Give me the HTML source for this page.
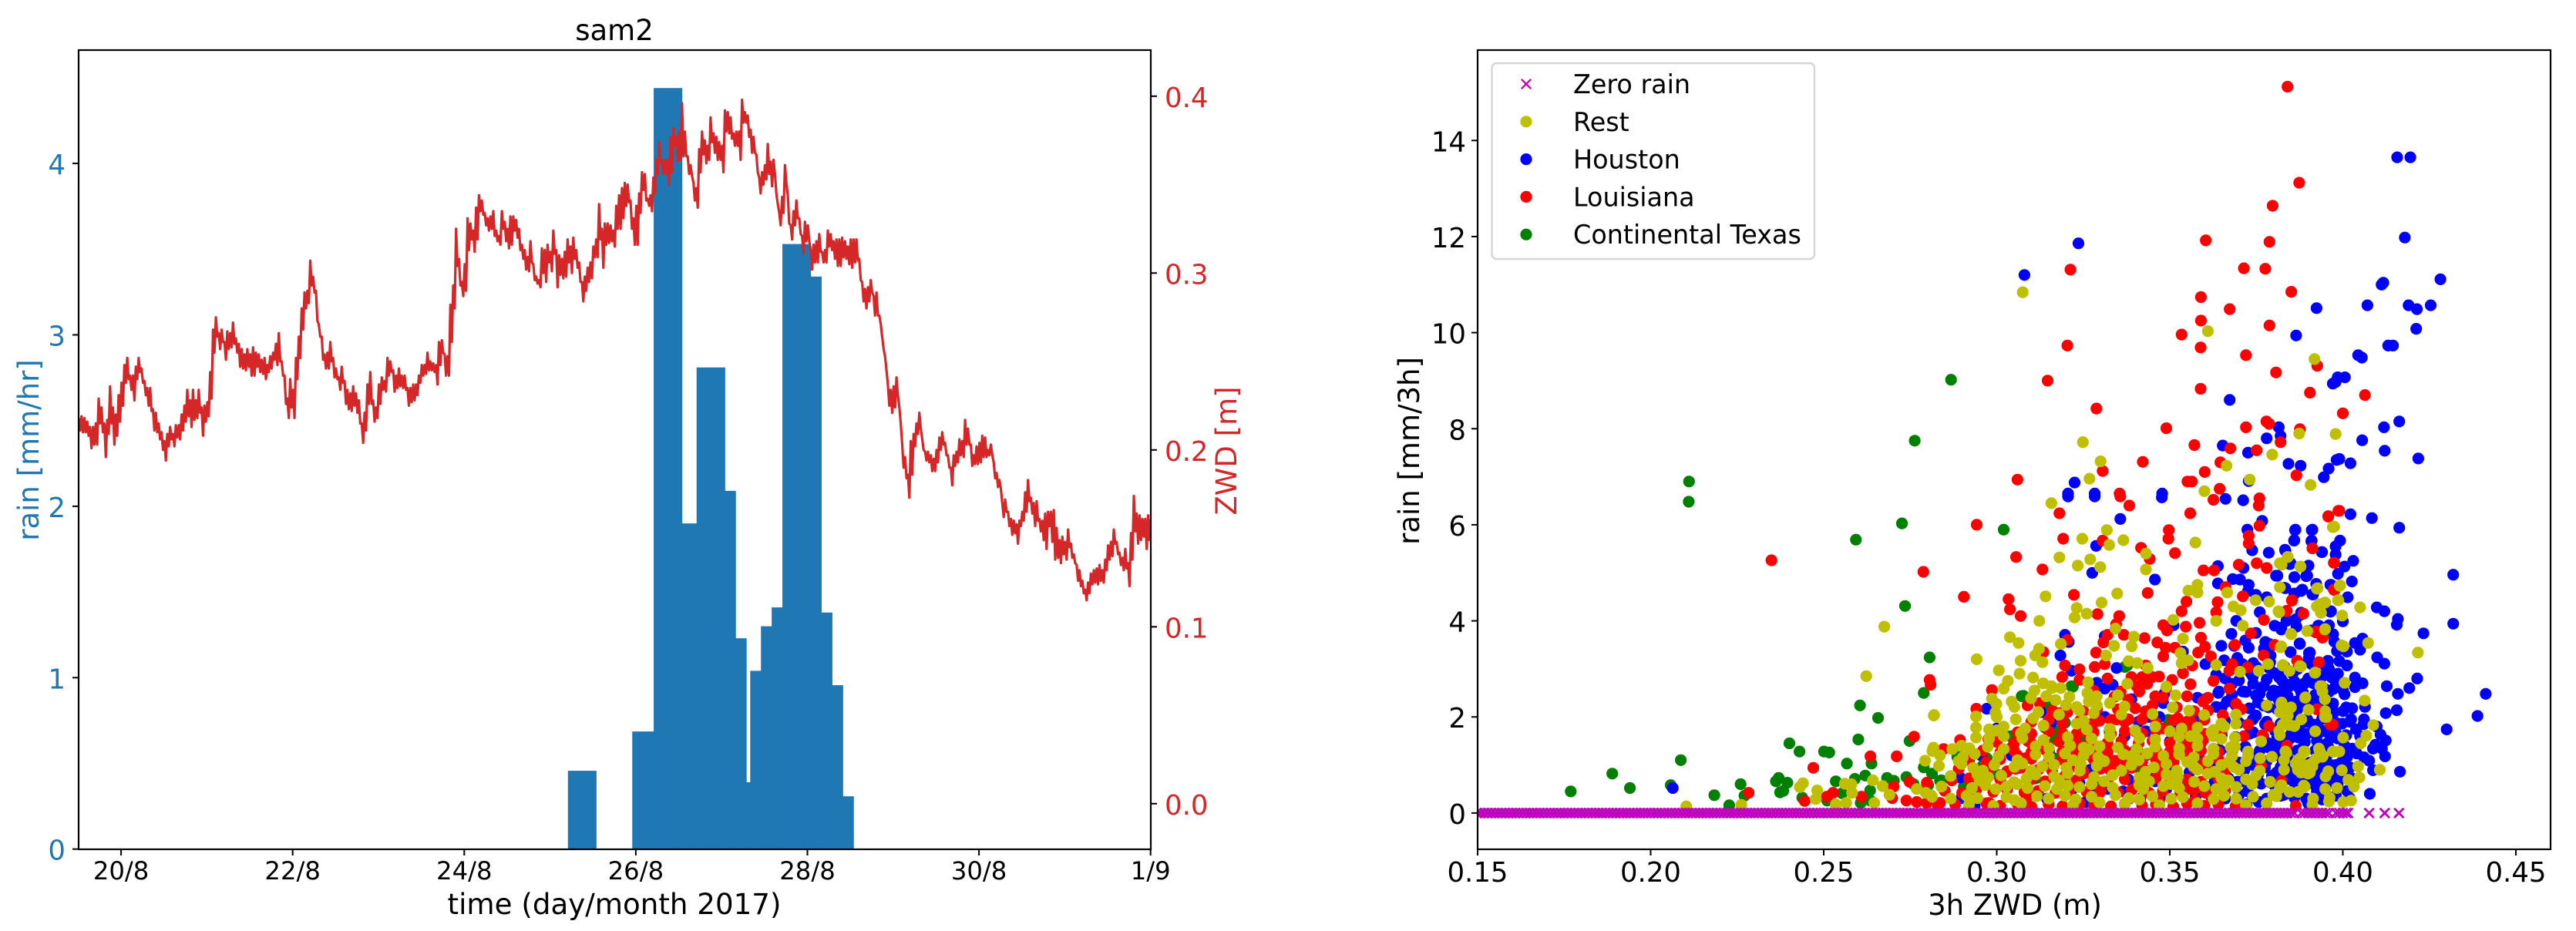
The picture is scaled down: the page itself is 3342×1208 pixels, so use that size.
<!DOCTYPE html>
<html>
<head>
<meta charset="utf-8">
<title>sam2 rain and ZWD</title>
<style>
html,body{margin:0;padding:0;background:#fff;}
svg{display:block;}
text{font-family:"DejaVu Sans","Liberation Sans",sans-serif;}
</style>
</head>
<body>
<svg id="figure" xmlns="http://www.w3.org/2000/svg" width="3342" height="1208" viewBox="0 0 3342 1208">
<defs>
<clipPath id="clip-left"><rect x="102" y="65" width="1391" height="1037"/></clipPath>
<clipPath id="clip-right"><rect x="1917" y="65" width="1392" height="1037"/></clipPath>
</defs>
<rect x="0" y="0" width="3342" height="1208" fill="#fff"/>
<g id="left-panel">
<g id="bars" clip-path="url(#clip-left)"></g>
<path id="zwd-line" clip-path="url(#clip-left)" fill="none" stroke="#d62728" stroke-width="3.2" stroke-linejoin="round"/>
<g id="left-axes"></g>
<text x="797" y="52" font-size="37" text-anchor="middle">sam2</text>
<text x="797" y="1186" font-size="37.2" text-anchor="middle">time (day/month 2017)</text>
<text transform="translate(50,584) rotate(-90)" font-size="37" fill="#1f77b4" text-anchor="middle">rain [mm/hr]</text>
<text transform="translate(1604,585) rotate(-90)" font-size="37" fill="#d62728" text-anchor="middle">ZWD [m]</text>
</g>
<g id="right-panel">
<g id="scatter" clip-path="url(#clip-right)"></g>
<g id="right-axes"></g>
<text x="2614" y="1187" font-size="37" text-anchor="middle">3h ZWD (m)</text>
<text transform="translate(1841,585) rotate(-90)" font-size="37" text-anchor="middle">rain [mm/3h]</text>
<g id="legend"></g>
</g>
</svg>
<script>
// ---- left chart data ----
const timeTickDays = [20,22,24,26,28,30,32];
const timeTickLabels = ['20/8','22/8','24/8','26/8','28/8','30/8','1/9'];
const rainTicks = [0,1,2,3,4];
const zwdTicks = [0,0.1,0.2,0.3,0.4];
const zwdTickLabels = ['0.0','0.1','0.2','0.3','0.4'];
const barDays = [25.375,26.125,26.375,26.625,26.875,27,27.125,27.25,27.5,27.625,27.75,27.875,28,28.125,28.25,28.375];
const rainRates = [0.457,0.686,4.44,1.9,2.81,2.09,1.23,0.39,1.04,1.3,1.41,3.53,3.34,1.38,0.956,0.308];
const barWidthDays = 1/3;
const zwdStartDay = 19.505;
const zwdBinDays = 1/30;
// high / low ZWD (mm) inside each successive time bin
const zwdHighLowMm = [
[218,211],[219,210],[218,210],[216,208],[213,201],[213,203],[215,203],[229,215],[224,210],[215,196],
[217,209],[236,215],[224,203],[220,208],[231,216],[238,225],[248,238],[252,240],[242,234],[242,228],
[247,240],[252,244],[246,238],[239,231],[235,225],[235,222],[223,211],[221,210],[215,206],[210,200],
[205,194],[209,202],[213,206],[209,202],[214,207],[214,206],[220,211],[225,216],[234,219],[228,213],
[234,217],[228,218],[234,221],[224,208],[225,216],[227,219],[244,229],[268,255],[275,264],[266,257],
[268,261],[261,251],[267,257],[266,258],[272,260],[263,255],[260,247],[257,246],[254,245],[257,247],
[254,242],[258,242],[255,247],[254,244],[251,243],[252,240],[248,244],[253,246],[255,251],[260,248],
[266,250],[250,242],[242,226],[229,218],[240,224],[234,218],[252,240],[264,252],[280,268],[289,280],
[290,283],[307,293],[298,289],[290,273],[271,264],[264,251],[254,246],[255,246],[261,250],[252,241],
[246,240],[241,234],[247,238],[239,226],[234,223],[232,222],[236,225],[232,221],[228,215],[215,204],
[221,211],[237,226],[244,226],[228,216],[224,218],[237,226],[241,234],[239,233],[252,242],[250,244],
[245,233],[242,235],[246,236],[242,235],[242,234],[235,225],[235,227],[237,228],[237,231],[242,238],
[248,242],[248,243],[255,245],[250,245],[249,244],[248,237],[261,248],[262,255],[254,242],[253,242],
[282,261],[293,280],[325,304],[308,293],[295,287],[305,290],[331,313],[328,319],[324,312],[337,319],
[344,335],[341,333],[334,327],[331,324],[332,325],[335,321],[324,318],[321,316],[335,325],[329,318],
[325,314],[332,316],[332,324],[330,320],[325,313],[316,308],[313,302],[309,301],[318,306],[305,296],
[298,294],[296,292],[314,300],[313,295],[316,306],[312,301],[324,311],[313,292],[310,299],[308,297],
[312,298],[319,306],[315,300],[320,308],[313,303],[306,295],[295,284],[298,290],[303,295],[306,297],
[315,309],[319,309],[339,319],[325,303],[328,316],[328,317],[327,318],[324,315],[338,325],[344,325],
[348,331],[351,338],[350,340],[341,325],[331,316],[338,316],[345,334],[357,347],[356,341],[342,338],
[344,335],[354,345],[364,356],[374,363],[364,356],[364,356],[364,350],[377,357],[382,372],[377,363],
[380,364],[396,366],[380,366],[366,356],[361,355],[351,341],[348,337],[370,357],[380,367],[375,362],
[372,364],[388,374],[379,368],[377,364],[374,364],[372,357],[392,380],[391,379],[388,376],[379,372],
[380,372],[380,364],[398,385],[391,385],[389,377],[381,368],[377,368],[367,357],[354,345],[357,350],
[361,353],[373,356],[363,349],[364,356],[345,339],[334,327],[343,334],[361,351],[344,328],[327,319],
[335,327],[341,331],[331,322],[321,311],[329,318],[327,318],[313,302],[316,306],[318,306],[322,312],
[312,306],[313,306],[324,315],[322,313],[318,308],[319,304],[319,304],[320,309],[318,308],[315,305],
[319,303],[319,306],[319,307],[308,296],[295,284],[291,280],[292,284],[296,289],[287,276],[289,276],
[276,271],[264,257],[253,245],[237,225],[234,221],[236,224],[241,231],[224,215],[203,190],[196,184],
[186,173],[205,186],[209,202],[215,209],[221,212],[206,200],[199,194],[199,193],[197,188],[195,188],
[200,193],[207,200],[210,203],[204,197],[197,190],[190,180],[197,191],[199,193],[206,197],[205,196],
[217,203],[212,203],[203,191],[197,192],[202,192],[204,193],[208,196],[207,196],[200,197],[203,197],
[193,184],[187,179],[183,178],[170,162],[172,165],[165,157],[161,152],[160,153],[158,147],[160,157],
[165,160],[176,165],[183,171],[173,164],[170,157],[171,160],[161,154],[160,149],[164,144],[165,157],
[165,148],[166,138],[156,139],[149,136],[151,141],[148,138],[155,145],[147,139],[141,136],[135,126],
[132,123],[126,119],[121,115],[125,119],[130,124],[132,125],[133,124],[135,126],[132,125],[138,132],
[146,138],[148,140],[155,147],[148,141],[142,135],[139,132],[144,133],[136,123],[153,138],[174,154],
[164,147],[163,149],[161,151],[161,144],[163,149],[161,148]
];

// ---- right chart data ----
const scatterXTicks = [0.15,0.2,0.25,0.3,0.35,0.4,0.45];
const scatterXLabels = ['0.15','0.20','0.25','0.30','0.35','0.40','0.45'];
const scatterYTicks = [0,2,4,6,8,10,12,14];
const legendLabels = ['Zero rain','Rest','Houston','Louisiana','Continental Texas'];
const zeroRainMm = [150,151,152,153,154,155,156,157,158,159,160,161,162,163,164,165,166,167,168,169,170,171,172,173,174,175,176,177,178,179,180,181,182,183,184,185,186,187,188,189,190,191,192,193,194,195,196,197,198,199,200,201,202,203,204,205,206,207,208,209,210,211,212,213,214,215,216,217,218,219,220,221,222,223,224,225,226,227,228,229,230,231,232,233,234,235,236,237,238,239,240,241,242,243,244,245,246,247,248,249,250,251,252,253,254,255,256,257,258,259,260,261,262,263,264,265,266,267,268,269,270,271,272,273,274,275,276,277,278,279,280,281,282,283,284,285,286,287,288,289,290,291,292,293,294,295,296,297,298,299,300,301,302,303,304,305,306,307,308,309,310,311,312,313,314,315,316,317,318,319,320,321,322,323,324,325,326,327,328,329,330,331,332,333,334,335,336,337,338,339,340,341,342,343,344,345,346,347,348,349,350,351,352,353,354,355,356,357,358,359,360,361,362,363,364,365,366,367,368,369,370,371,372,373,374,375,376,377,378,379,380,381,382,383,384,385,386,388,389,390,391,392,393,394,395,396,398,399,400,401,401.5,407.6,412.1,416.2];
const texasPoints = [[.2110,6.48],[.2111,6.9],[.2726,6.03],[.2593,5.69],[.2735,4.31],[.2868,9.02],[.2763,7.75],[.2806,3.24],[.2789,2.5],[.2605,2.24],[.2657,1.98],[.26,1.53],[.2748,1.5],[.2401,1.45],[.243,1.28],[.2501,1.28],[.2516,1.26],[.2789,.95],[.2567,1.03],[.2638,1.03],[.2087,1.1],[.1889,.82],[.262,.78],[.259,.71],[.237,.73],[.2362,.66],[.2395,.63],[.2535,.66],[.2683,.73],[.2703,.67],[.2739,.75],[.2798,.55],[.226,.6],[.194,.52],[.1769,.45],[.2058,.58],[.2271,.36],[.2184,.37],[.2383,.46],[.2374,.43],[.251,.26],[.2553,.41],[.2607,.21],[.2634,.47],[.2635,.26],[.2438,.32],[.2227,.16],
[.302,5.9],[.3216,2.64],[.3377,3.07],[.3072,2.43],[.3197,1.88],[.3151,2.22],[.3139,1.78],[.317,1.7],[.317,1.54],[.304,1.6],[.3239,1.52],[.3327,1.68],[.3316,1.4],[.2886,1.17],[.2971,1.14],[.2959,.98],[.3028,.85],[.3005,.79],[.2905,.55],[.2836,.67],[.2813,.82],[.2802,.58],[.3496,1.94],[.3412,.93],[.3112,.72],[.3297,.63],[.34,.61],[.3166,1.14],[.276,.6],[.284,.68],[.29,1.16],[.297,.96],[.291,.5],[.3077,2.44],[.322,2.63],[.337,3.04],[.3196,1.89],[.3326,1.7],[.3315,1.39]];
const houstonPoints = [[.4157,13.65],[.4195,13.65],[.4179,11.98],[.3236,11.86],[.308,11.2],[.4282,11.11],[.4112,11],[.4117,11.04],[.3924,10.51],[.4071,10.57],[.419,10.57],[.4214,10.49],[.4254,10.57],[.3865,9.94],[.4212,10.08],[.4131,9.73],[.4145,9.73],[.4044,9.53],[.4055,9.48],[.3985,9.07],[.4006,9.07],[.3971,8.94],[.3979,8.97],[.3673,8.6],[.3815,8.03],[.4163,8.15],[.4119,8.03],[.378,7.8],[.382,7.85],[.4056,7.76],[.3653,7.65],[.3726,7.5],[.4121,7.54],[.3843,7.27],[.3878,7.23],[.3982,7.35],[.399,7.37],[.4022,7.28],[.4218,7.38],[.3959,7.17],[.3945,6.99],[.3225,6.88],[.3728,6.91],[.3206,6.65],[.3283,6.65],[.3478,6.65],
[.3863,5.9],[.386,5.68],[.3912,5.9],[.391,5.67],[.3834,5.46],[.3849,5.2],[.394,5.43],[.3979,5.55],[.3979,5.38],[.3992,5.67],[.4022,6.22],[.4084,6.14],[.4163,5.94],[.403,5.25],[.4005,5.13],[.3986,4.98],[.3901,5.15],[.3897,4.94],[.386,4.91],[.3811,4.94],[.4026,4.82],[.3966,4.75],[.3923,4.77],[.3883,4.65],[.386,4.56],[.3834,4.68],[.3912,4.55],[.4014,4.49],[.4098,4.28],[.412,4.2],[.4159,4.04],[.4156,3.92],[.4319,4.96],[.4319,3.94],[.4233,3.74],[.3966,4.2],[.4,3.99],[.3879,4.13],[.3838,4.01],[.3822,3.86],[.3866,3.88],[.3931,3.9],[.396,3.91],[.3909,3.8],[.3972,3.72],[.3975,3.57],[.3983,3.37],[.4012,3.36],[.3875,3.53],[.3849,3.35],[.3905,3.34],[.3901,3.17],[.4057,3.63],[.4035,3.54],[.405,3.4],[.4099,3.24],[.412,3.11],[.4012,3.07],[.3957,3.17],[.396,3],[.4215,2.8],[.4192,2.6],[.4127,2.64],[.4159,2.48],[.4413,2.48],[.4389,2.02],[.43,1.74],[.4035,2.82],[.4057,2.7],[.4035,2.62],[.3986,2.9],[.3968,2.82],[.389,2.7],[.3972,2.58],[.4005,2.47],[.3923,2.9],[.3923,2.35],[.3972,2.28],[.3875,2.59],[.3846,2.64],[.3868,2.15],[.3846,2.32],[.3816,2.82],[.3823,2.53],[.4027,2.18],[.4001,2.12],[.4064,2.21],[.4124,2.08],[.4156,2.14],[.4024,1.95],[.4061,1.95],[.3998,1.86],[.4038,1.74],[.4098,1.8],[.3897,1.95],[.3942,1.71],[.3972,1.66],[.3927,1.83],[.3875,1.69],[.4109,1.63],[.4124,1.51],[.4094,1.42],[.4113,1.34],[.4087,1.34],[.4122,1.18],[.4027,1.34],[.4012,1.16],[.4061,1.16],[.4076,1.09],[.3953,1.19],[.389,1.48],[.3868,1.6],[.3846,1.54],[.3816,1.42],[.3831,1.08],[.385,.87],[.3927,.73],[.3968,.84],[.4087,.89],[.4165,.86],[.4024,.73],[.3964,.64],[.392,.58],[.4012,.46],[.4078,.4],[.3931,.38],[.3894,.3],[.383,.38],[.3868,.61],[.3808,.84],
[.3206,6.59],[.3283,6.59],[.3477,6.57],[.3661,6.54],[.3712,6.51],[.3357,6.12],[.3767,6.08],[.3724,5.9],[.3862,5.89],[.391,5.89],[.3859,5.67],[.3909,5.66],[.3287,5.56],[.3738,5.47],[.3786,5.42],[.3833,5.48],[.3939,5.43],[.3639,5.14],[.3713,5.1],[.3847,5.18],[.3276,5],[.3457,4.86],[.3639,4.78],[.3682,4.87],[.3703,4.86],[.3807,4.94],[.3728,4.75],[.3726,4.62],[.386,4.91],[.3894,4.93],[.383,4.69],[.386,4.57],[.3879,4.62],[.3914,4.55],[.3964,4.75],[.3749,4.54],[.378,4.49],[.376,4.18],[.3692,4],[.3749,3.75],[.3678,3.73],[.3511,3.91],[.3312,3.68],[.3197,3.71],[.3208,3.56],[.3803,3.9],[.3837,4],[.3879,4.17],[.3864,4.03],[.3929,3.9],[.3964,4.19],[.3822,3.82],[.3971,3.71],[.3718,3.59],[.3649,3.48],[.3686,3.48],[.3728,3.44],[.3776,3.56],[.3787,3.52],[.3849,3.35],[.3876,3.52],[.3902,3.33],[.3772,3.42],[.3184,3.28],[.3538,3.36],[.3791,3.28],[.3695,3.23],[.3603,3.1],[.3657,3.18],[.3741,3.12],[.3956,3.12],[.3902,3.23],[.3787,3.02],[.3734,2.91],[.3634,2.88],[.3346,3.02],[.3216,2.96],[.3538,2.91],[.368,2.69],[.3964,2.91],[.3887,2.69],[.3803,2.91],[.3741,2.69],[.3772,2.64],[.3841,2.67],[.3642,2.53],[.3711,2.53],[.3749,2.45],[.3665,2.32],[.3818,2.53],[.3864,2.32],[.3918,2.37],[.3964,2.27],[.3289,2.71],[.3335,2.67],[.3312,2.59],[.3389,2.37],[.3481,2.29],[.3484,2.48],[.358,2.4],[.3603,2.37],[.3634,2.21],[.2971,2.17],[.3129,2.1],[.3158,1.88],[.3438,2],[.3312,2],[.3749,2.03],[.3887,1.89],[.3918,1.84],[.3979,1.68],[.3741,1.68],[.3872,1.57],[.3956,1.68],[.391,1.68],[.3369,1.6],[.3431,1.7],[.3534,1.57],[.3826,1.52],[.3718,1.38],[.3787,1.36],[.3868,1.3],[.3,1.76],[.35,1.49],[.3043,1.2],[.2955,1.2],[.3646,1.3],[.3584,1.17],[.3596,.98],[.3715,.88],[.3826,1.09],[.3857,.66],[.3764,.61],[.3458,.66],[.3458,.82],[.3492,.95],[.3557,.85],[.3239,.63],[.2894,.74],[.2898,.31],[.3481,.37],[.3826,.37],[.3895,.29],[.3929,.39],[.3757,.23],[.3258,.23],[.3151,1.3],[.3266,1.22],[.34,1.3],[.2936,.15],[.3722,.18],[.3948,.66],[.3987,.82],[.3795,.77],[.3887,.77],[.2064,.52],
[.3755,2.3],[.3785,2.2],[.3815,2.35],[.3845,2.15],[.3875,2.3],[.3905,2.2],[.3935,2.45],[.3765,2.6],[.3795,2.45],[.3825,2.75],[.3855,2.9],[.3885,2.5],[.3915,2.7],[.3945,2.6],[.3975,2.1],[.3775,1.85],[.3805,1.7],[.3835,1.9],[.3865,1.75],[.3895,1.65],[.3925,1.5],[.3955,1.45],[.3985,1.55],[.4005,1.4],[.3785,1.45],[.3815,1.2],[.3845,1.1],[.3875,.95],[.3905,1.05],[.3935,.9],[.3965,1.0],[.3995,1.05],[.3745,1.15],[.3775,.95],[.3805,.55],[.3835,.7],[.3865,.45],[.3895,.6],[.3925,.45],[.3955,.35],[.3985,.6],[.4005,.85],[.3695,.65],[.3725,.45],[.3755,.8],[.3665,1.0],[.3635,.75],[.3605,.55],[.3575,.35],[.3545,.6],[.3415,.3],[.3365,.45],[.3285,.4],[.3215,.45],[.3145,.3]];
const houstonDensePoints = [
[.362,.34],[.366,.3],[.370,.38],[.374,.33],[.378,.3],[.382,.36],[.386,.32],[.390,.2],[.394,.28],[.398,.36],[.402,.31],
[.363,.68],[.367,.72],[.371,.66],[.375,.71],[.379,.64],[.383,.75],[.387,.68],[.391,.72],[.395,.66],[.399,.74],[.403,.62],
[.362,1.02],[.366,.98],[.370,1.05],[.374,1.0],[.378,1.08],[.382,.96],[.386,1.04],[.390,.98],[.394,1.06],[.398,1.0],[.402,.95],
[.364,1.32],[.368,1.28],[.372,1.35],[.376,1.3],[.380,1.36],[.384,1.27],[.388,1.33],[.392,1.3],[.396,1.35],[.400,1.28],[.404,1.24],
[.365,1.62],[.369,1.58],[.373,1.65],[.377,1.6],[.381,1.56],[.385,1.64],[.389,1.6],[.393,1.66],[.397,1.58],[.401,1.62],[.405,1.6],
[.366,1.92],[.370,1.88],[.374,1.95],[.378,1.9],[.382,1.86],[.386,1.94],[.390,1.9],[.394,1.96],[.398,1.88],[.402,1.9],[.406,1.85],
[.365,2.2],[.369,2.25],[.373,2.18],[.377,2.24],[.381,2.16],[.385,2.22],[.389,2.26],[.393,2.18],[.397,2.24],[.401,2.2],
[.364,2.5],[.368,2.46],[.372,2.52],[.376,2.48],[.380,2.55],[.384,2.44],[.388,2.5],[.392,2.46],[.396,2.52],[.400,2.56],
[.366,2.8],[.370,2.76],[.374,2.84],[.378,2.78],[.382,2.86],[.386,2.74],[.390,2.8],[.394,2.84],[.398,2.72],
[.371,3.1],[.375,3.04],[.379,3.14],[.383,3.06],[.387,3.0],[.391,3.1],[.395,3.06],[.399,3.16],
[.352,1.2],[.346,1.0],[.355,.7],[.349,.5],[.343,.85],[.338,.7],[.332,.5],[.327,.9],[.352,1.85],[.358,1.95],[.347,2.0],[.341,1.9]
];
const louisianaPoints = [[.384,15.12],[.3874,13.12],[.3797,12.64],[.3604,11.92],[.3788,11.89],[.3213,11.31],[.3714,11.34],[.3776,11.33],[.3851,10.85],[.359,10.74],[.3673,10.49],[.359,10.25],[.3534,9.96],[.3788,10.15],[.3204,9.73],[.3589,9.69],[.372,9.53],[.3926,9.31],[.3807,9.17],[.3147,9],[.3589,8.83],[.3905,8.75],[.4064,8.7],[.3288,8.42],[.4,8.32],[.3779,8.15],[.3787,8.1],[.372,8.03],[.349,8.01],[.3876,7.99],[.382,7.72],[.3571,7.66],[.3675,7.59],[.3751,7.55],[.3422,7.31],[.3646,7.3],[.3306,7.12],[.3601,7.1],[.3866,7.03],[.306,6.94],[.3551,6.9],[.3564,6.9],[.3644,6.75],[.3355,6.65],
[.2349,5.26],[.2788,5.02],[.2806,2.77],[.2809,2.67],[.2761,1.59],[.2635,1.18],[.2711,1.18],[.247,.94],[.2748,.65],[.2798,.63],[.2283,.42],[.2509,.34],[.2527,.42],[.2609,.34],[.2698,.31],[.2702,.55],[.2739,.26],[.2769,.23],[.2798,.21],[.2445,.25],
[.2942,6],[.3181,6.24],[.3357,6.59],[.3383,6.4],[.3559,6.24],[.3626,6.52],[.3759,6.55],[.3757,6.4],[.3759,5.98],[.3958,6.17],[.3987,6.29],[.3192,5.71],[.3306,5.67],[.3497,5.89],[.3496,5.71],[.3056,5.33],[.3417,5.52],[.3442,5.29],[.3515,5.41],[.3728,5.77],[.3728,5.61],[.3132,5.07],[.3597,5.05],[.3628,5.05],[.3699,5.17],[.3751,5.2],[.378,5.1],[.3974,5.21],[.3912,5.51],[.2905,4.5],[.3223,4.54],[.3436,4.58],[.3661,4.7],[.3711,4.51],[.3853,4.43],[.3974,4.65],[.3034,4.45],[.3038,4.24],[.3069,4.1],[.3291,4.14],[.3354,4.1],[.3548,4.4],[.3534,4.2],[.3638,4.39],[.3634,4.18],[.3772,4.02],[.3837,4.2],[.3345,3.93],[.3481,3.91],[.3492,3.8],[.3546,3.88],[.3586,3.96],[.3922,3.76],[.3941,3.65],[.332,3.71],[.3367,3.71],[.3308,3.55],[.3427,3.64],[.359,3.65],[.3464,3.55],[.3488,3.44],[.3481,3.26],[.3515,3.44],[.3602,3.46],[.3582,3.34],[.3619,3.26],[.3734,3.74],[.3287,3.34],[.3204,3.6],[.3135,3.35],[.3688,3.5],[.3771,3.28],[.3803,3.5],[.3283,3.04],[.3312,3.1],[.3197,3.07],[.3239,2.99],[.3431,3.07],[.3565,3.07],[.368,3.1],[.3725,3.03],[.393,3.13],[.3868,3.17],
[.3189,2.83],[.3239,2.77],[.3389,2.83],[.342,2.83],[.345,2.83],[.3469,2.84],[.3507,2.77],[.3538,2.91],[.3626,2.75],[.3672,2.96],[.3358,2.53],[.3404,2.64],[.3435,2.69],[.3412,2.53],[.2986,2.56],[.3458,2.43],[.345,2.24],[.355,2.43],[.3672,2.59],[.3692,2.27],[.3707,2.16],[.3925,2.16],[.3971,1.84],[.3787,1.81],[.3726,1.84],[.2941,2.17],[.3089,2.24],[.3124,2.29],[.34,2.18],[.335,2.16],[.3181,2.08],[.3204,2.1],[.3297,1.92],[.3346,1.95],[.3381,1.95],[.3596,2.32],[.3611,2.13],[.3653,2.04],[.3523,1.97],[.355,1.9],
[.3481,1.76],[.34,1.7],[.3231,1.65],[.3266,1.62],[.3565,1.68],[.3596,1.52],[.3768,1.62],[.3714,1.6],[.2894,1.52],[.2976,1.54],[.3043,1.36],[.3101,1.44],[.3231,1.3],[.327,1.2],[.2846,1.33],[.3059,1.2],[.3082,1.14],[.332,1.25],[.3343,1.09],[.3565,1.46],[.3507,1.2],[.3511,1.06],[.3431,1.2],[.355,1.3],[.3764,.98],
[.3162,1.03],[.3055,.92],[.3327,.9],[.3366,.87],[.3465,.93],[.3251,.82],[.3197,.77],[.3312,.66],[.3557,.5],[.3603,.42],[.3105,.39],[.3086,.31],[.3297,.42],[.2978,.21],[.3469,.24],[.3573,.26],[.2836,.21],[.3864,.15],[.3381,.29],[.2921,.71],
[.3958,6.18],[.399,6.29],[.3975,5.21],[.3976,4.64],[.3853,4.42],[.3838,4.21],[.3886,4.15],[.3923,3.78],[.3942,3.66],[.3931,3.14],[.3868,3.17],[.3926,2.16],[.3964,1.84],[.3838,1.4],[.3823,.67]];
const louisianaDensePoints = [
[.283,.14],[.288,.18],[.292,.13],[.297,.2],[.301,.15],[.306,.19],[.31,.13],[.315,.18],[.319,.14],[.324,.2],[.328,.16],[.333,.14],[.337,.19],[.342,.15],[.346,.18],[.351,.13],[.355,.2],[.36,.15],[.364,.18],[.369,.14],
[.285,.46],[.29,.42],[.294,.48],[.299,.44],[.303,.49],[.308,.43],[.312,.46],[.317,.42],[.321,.48],[.326,.44],[.33,.47],[.335,.43],[.339,.48],[.344,.42],[.348,.46],[.353,.44],[.357,.48],[.362,.43],[.366,.46],
[.287,.68],[.292,.72],[.296,.66],[.301,.7],[.305,.64],[.31,.7],[.314,.66],[.319,.72],[.323,.68],[.328,.73],[.332,.66],[.337,.7],[.341,.65],[.346,.72],[.35,.68],[.355,.7],[.359,.65],[.364,.72],
[.289,.92],[.294,.88],[.298,.93],[.303,.87],[.307,.94],[.312,.9],[.316,.88],[.321,.93],[.325,.87],[.33,.92],[.334,.89],[.339,.94],[.343,.88],[.348,.92],[.352,.87],[.357,.93],[.361,.9],[.366,.88],
[.292,1.1],[.297,1.06],[.301,1.12],[.306,1.08],[.31,1.13],[.315,1.07],[.319,1.11],[.324,1.06],[.328,1.12],[.333,1.08],[.337,1.1],[.342,1.06],[.346,1.12],[.351,1.08],[.355,1.1],[.36,1.06],[.364,1.12],
[.296,1.3],[.301,1.26],[.305,1.3],[.31,1.26],[.314,1.32],[.319,1.28],[.323,1.25],[.328,1.31],[.332,1.27],[.337,1.3],[.341,1.26],[.346,1.32],[.35,1.28],[.355,1.25],[.359,1.3],[.364,1.27],
[.3,1.48],[.305,1.45],[.309,1.5],[.314,1.46],[.318,1.49],[.323,1.45],[.327,1.5],[.332,1.46],[.336,1.49],[.341,1.45],[.345,1.5],[.35,1.46],[.354,1.49],[.359,1.45],
[.306,1.68],[.31,1.65],[.315,1.7],[.319,1.66],[.324,1.72],[.328,1.68],[.333,1.65],[.337,1.7],[.342,1.66],[.346,1.71],[.351,1.67],[.355,1.7],[.36,1.65],[.365,1.7],
[.31,1.9],[.315,1.94],[.319,1.88],[.324,1.92],[.328,1.88],[.333,1.94],[.337,1.9],[.342,1.95],[.346,1.88],[.351,1.93],[.356,1.9],[.36,1.94],
[.316,2.14],[.32,2.18],[.325,2.12],[.329,2.16],[.334,2.42],[.338,2.36],[.343,2.12],[.348,2.4],[.352,2.2],[.357,2.12],[.361,2.4],[.328,2.55],[.332,2.8],[.356,2.68],[.349,2.6]
];
const restPoints = [[.3075,10.84],[.361,10.03],[.3918,9.45],[.3874,7.9],[.3979,7.89],[.3249,7.72],[.3796,7.46],[.33,7.32],[.3664,7.23],[.3268,6.96],[.3731,6.94],[.3907,6.83],[.36,6.7],
[.2675,3.88],[.2623,2.85],[.2818,2.03],[.2814,1.29],[.2793,1.09],[.2642,.68],[.244,.62],[.2561,.61],[.258,.6],[.267,.56],[.2431,.54],[.2481,.47],[.2477,.29],[.2582,.42],[.2565,.21],[.2535,.18],[.2646,.21],[.269,.38],[.2769,.5],[.2795,.42],[.281,.37],[.2262,.17],[.2103,.14],
[.3158,6.45],[.3318,5.89],[.3247,5.71],[.3325,5.58],[.3366,5.68],[.3574,5.63],[.3181,5.32],[.3234,5.15],[.327,5.28],[.3299,5.12],[.3431,5.07],[.3431,5.4],[.3141,4.51],[.3348,4.57],[.3554,4.63],[.358,4.75],[.358,4.59],[.3666,4.59],[.3303,4.38],[.3231,4.27],[.326,4.15],[.3225,4.07],[.3123,4],[.3038,3.66],[.3063,3.54],[.3122,3.42],[.3111,3.28],[.3132,3.14],[.3185,3.52],[.3343,3.84],[.3396,3.67],[.339,3.47],[.3339,3.48],[.3316,3.28],[.351,4.02],[.3538,3.63],[.3531,3.33],[.3553,3.18],[.3534,3.12],[.2942,3.2],[.3069,3.17],[.3006,2.97],[.3066,2.9],[.3105,2.82],[.3381,3.16],[.3406,3.12],[.3436,3.02],[.3032,2.75],[.302,2.59],[.3134,2.7],[.3158,2.64],[.3185,2.6],[.3109,2.55],[.3264,2.72],[.3262,2.5],[.3289,2.43],[.3377,2.69],[.349,2.63],[.3517,2.45],[.2986,2.38],[.2999,2.27],[.3043,2.32],[.3099,2.39],[.3143,2.43],[.317,2.35],[.321,2.42],[.3327,2.29],[.3289,2.24],[.3266,2.32],[.3231,2.21],[.3239,2.13],[.3369,2.22],[.3508,2.2],[.2996,2.09],[.3051,2.21],[.294,2.01],[.2819,2.04],[.3055,1.95],[.3105,1.97],[.3251,1.92],[.3231,1.86],[.3556,2.13],[.3599,2.04],[.3691,2.05],[.3691,1.86],[.3649,1.86],[.3711,3.9],[.3684,4.3],[.3705,4.22],[.3634,4],[.3634,3.08],[.3703,2.94],[.3748,4.43],[.3787,4.4],[.3814,4.2],[.3897,3.79],[.385,3.73],[.382,3.45],[.3878,5.13],[.3818,5.2],[.3841,5.33],[.3971,5.95],[.3925,4.67],[.3818,4.7],[.3933,4.35],[.3948,4.38],[.3925,4.3],[.3937,4.17],[.3987,4.43],[.3948,3.82],[.3991,4.73],[.4002,3.47],[.3826,3.07],[.3845,2.96],[.3876,3.06],[.3919,2.92],[.3757,2.96],[.3784,3.1],[.3939,2.64],[.3941,2.53],[.3948,2.37],[.3891,2.4],[.378,2.24],[.3822,2.27],[.3818,2.1],[.3841,2.03],[.386,1.81],[.3826,1.84],[.3818,1.62],[.3948,2],[.3764,1.49],[.3688,1.38],[.368,1.2],[.3726,1.28],[.3761,1.14],[.3795,1.17],[.3837,1.25],[.3887,1.28],[.3933,1.3],[.3971,1.28],[.3941,1.17],[.388,.98],[.391,1.03],[.3899,.82],[.3864,1.03],
[.3975,5.96],[.384,5.33],[.3823,5.17],[.3877,5.13],[.3992,4.74],[.3927,4.68],[.3986,4.43],[.405,4.28],[.3929,4.32],[.3949,4.38],[.3936,4.18],[.3998,4.11],[.3816,4.18],[.3897,3.79],[.3949,3.83],[.3851,3.72],[.3822,3.47],[.3996,3.49],[.4073,3.54],[.4217,3.34],[.3879,3.05],[.392,2.92],[.3827,3.08],[.3846,2.96],[.4005,2.71],[.3935,2.64],[.3892,2.41],[.3948,2.37],[.4063,2.34],[.3823,2.3],[.3901,2.15],[.3949,2.12],[.3953,2],[.383,2.06],[.3846,1.83],[.3816,1.71],[.4088,1.83],[.4068,1.61],[.4052,1.45],[.4001,1.57],[.3931,1.34],[.389,1.28],[.3975,1.28],[.399,1.28],[.3834,1.28],[.3875,1.13],[.3912,.97],[.3894,.99],[.3942,1.19],[.4044,.97],[.4107,.9],[.3997,.89],[.3958,.87],[.3879,.84],[.3905,.84],[.4016,.69],[.4048,.74],[.4032,.55],[.389,.55],[.3823,.58],[.3871,.44],[.3949,.5],[.3983,.52],[.396,.24],[.4001,.23],[.4024,.26],[.3912,.17],[.3846,.44],[.3808,.35],
[.2813,.34],[.2867,.3],[.2913,.36],[.2944,.31],[.3028,.33],[.3051,.27],[.3116,.35],[.315,.3],[.3197,.36],[.3228,.28],[.3274,.34],[.3297,.22],[.3343,.37],[.3381,.31],[.3412,.28],[.345,.35],[.3504,.3],[.3538,.33],[.3626,.29],[.3657,.36],[.3692,.3],[.3741,.34],[.3799,.38],[.3962,.32],[.3914,.3],
[.284,.55],[.2928,.52],[.2967,.58],[.2997,.5],[.3028,.55],[.3059,.6],[.3089,.52],[.3139,.56],[.3174,.5],[.3205,.57],[.3239,.54],[.3274,.6],[.3335,.53],[.3412,.58],[.3423,.5],[.3481,.56],[.3504,.6],[.3527,.52],[.36,.56],[.3634,.5],[.3657,.58],[.3692,.54],[.3738,.6],[.3818,.52],[.3887,.57],
[.2867,.77],[.2944,.8],[.2975,.74],[.3013,.78],[.3086,.72],[.3112,.8],[.3166,.76],[.3205,.83],[.3281,.75],[.3335,.79],[.3412,.74],[.349,.8],[.3523,.76],[.361,.82],[.3649,.72],[.3749,.78],[.395,.76],
[.2833,.98],[.2898,1.02],[.2932,.94],[.2993,1],[.3051,.96],[.3074,1.03],[.3132,.97],[.3166,1],[.3201,.94],[.3243,1.02],[.3289,.98],[.3389,1],[.3454,.95],[.349,1.02],[.3569,.97],[.3649,1],[.3684,.96],
[.2836,1.2],[.2902,1.16],[.2936,1.23],[.3005,1.18],[.3112,1.22],[.3151,1.17],[.3197,1.24],[.3251,1.2],[.3293,1.16],[.3366,1.22],[.3389,1.18],[.3435,1.24],[.3481,1.19],[.3527,1.22],[.3569,1.16],[.3626,1.23],[.368,1.18],[.3726,1.2],
[.2817,1.36],[.2871,1.33],[.2898,1.4],[.2921,1.35],[.2974,1.38],[.302,1.33],[.3112,1.39],[.3151,1.35],[.3212,1.4],[.3251,1.36],[.3266,1.32],[.3297,1.39],[.335,1.36],[.3404,1.33],[.3458,1.38],[.3527,1.35],[.358,1.4],[.3626,1.34],[.3676,1.37],
[.294,1.57],[.2978,1.55],[.302,1.6],[.3074,1.56],[.3135,1.52],[.3205,1.58],[.3274,1.55],[.3327,1.6],[.3412,1.56],[.3458,1.53],[.3527,1.59],[.358,1.55],[.3626,1.6],[.3649,1.54],[.3688,1.57],
[.294,1.78],[.2978,1.74],[.302,1.8],[.3082,1.76],[.3135,1.82],[.3327,1.75],[.3458,1.8],[.3534,1.76],[.358,1.78],[.3626,1.73],[.3657,1.8]];
const restDensePoints = [
[.292,.18],[.299,.15],[.307,.2],[.322,.16],[.337,.18],[.347,.16],[.358,.2],[.372,.16],[.378,.2],
[.295,.68],[.305,.64],[.318,.68],[.331,.66],[.344,.66],[.352,.68],[.357,.65],[.367,.68],[.372,.7],[.379,.65],
[.296,.88],[.31,.88],[.324,.88],[.336,.88],[.343,.86],[.352,.88],[.358,.9],[.363,.86],[.37,.9],[.376,.88],[.383,.9],[.387,.9],
[.289,1.08],[.306,1.1],[.322,1.1],[.331,1.08],[.341,1.1],[.355,1.06],[.361,1.08],[.367,1.06],[.372,1.08],[.383,1.1],[.387,1.1],[.392,1.12],
[.3,1.72],[.307,1.66],[.326,1.74],[.34,1.72],[.35,1.7],[.356,1.6],[.362,1.68],[.385,2.2],[.388,1.95],[.392,1.7],
[.3,2.0],[.312,2.1],[.318,2.05],[.328,2.08],[.336,2.05],[.345,2.06],[.316,2.6],[.32,2.25],[.335,2.45]
];

// ---- axis functions ----
function xTime(day){ return 157.1 + (day - 20) * 111.3; }
function yRainRate(v){ return 1101.7 - v * 222.4; }
function yZwd(m){ return 1042.8 - m * 2295; }
function xScatter(m){ return 1917 + (m - 0.15) * 4490; }
function yScatter(r){ return 1054.9 - r * 62.33; }

const SVGNS = 'http://www.w3.org/2000/svg';
function mk(tag, parent, attrs){
  const el = document.createElementNS(SVGNS, tag);
  for (const k in attrs) el.setAttribute(k, attrs[k]);
  parent.appendChild(el);
  return el;
}
const BLUE = '#1f77b4', RED = '#d62728';
const barsGroup = document.getElementById('bars');
const leftAxes = document.getElementById('left-axes');
const rightAxes = document.getElementById('right-axes');
const scatterGroup = document.getElementById('scatter');
const legendGroup = document.getElementById('legend');

// rain bars
barDays.forEach(function(day, i){
  const x0 = xTime(day - barWidthDays / 2);
  const x1 = xTime(day + barWidthDays / 2);
  const top = yRainRate(rainRates[i]);
  const el = mk('rect', barsGroup, {x: x0, y: top, width: x1 - x0, height: yRainRate(0) - top, fill: BLUE});
  
  
});

// ZWD line
let zwdPath = '';
zwdHighLowMm.forEach(function(bin, i){
  const day = zwdStartDay + i * zwdBinDays;
  zwdPath += (i ? 'L' : 'M') + xTime(day).toFixed(1) + ' ' + yZwd(bin[0] / 1000).toFixed(1);
  zwdPath += 'L' + xTime(day + zwdBinDays / 2).toFixed(1) + ' ' + yZwd(bin[1] / 1000).toFixed(1);
});
document.getElementById('zwd-line').setAttribute('d', zwdPath);

// spines
function spines(parent, l, r, t, b){
  const el = mk('rect', parent, {x: l, y: t, width: r - l, height: b - t, fill: 'none', stroke: '#000', 'stroke-width': 2.2});
  
  
}
spines(leftAxes, 102, 1493, 65, 1102);
spines(rightAxes, 1917, 3309, 65, 1102);

// left x ticks
timeTickDays.forEach(function(day, i){
  const x = xTime(day);
  const tick = mk('line', leftAxes, {x1: x, x2: x, y1: 1102, y2: 1110, stroke: '#000', 'stroke-width': 2});
  
  
  const label = mk('text', leftAxes, {x: x, y: 1141, 'font-size': 32.3, 'text-anchor': 'middle'});
  label.textContent = timeTickLabels[i];
  
  
});
// left y ticks
rainTicks.forEach(function(v){
  const y = yRainRate(v);
  const tick = mk('line', leftAxes, {x1: 94, x2: 102, y1: y, y2: y, stroke: '#000', 'stroke-width': 2});
  
  
  const label = mk('text', leftAxes, {x: 85, y: y + 14, 'font-size': 35.5, 'text-anchor': 'end', fill: BLUE});
  label.textContent = String(v);
  
  
});
// secondary y ticks
zwdTicks.forEach(function(v, i){
  const y = yZwd(v);
  const tick = mk('line', leftAxes, {x1: 1493, x2: 1501, y1: y, y2: y, stroke: '#000', 'stroke-width': 2});
  
  
  const label = mk('text', leftAxes, {x: 1511, y: y + 14, 'font-size': 35.5, fill: RED});
  label.textContent = zwdTickLabels[i];
  
  
});

// scatter series, back to front
const seriesDraw = [
  {points: texasPoints, color: 'green'},
  {points: houstonDensePoints, color: '#0000ff'},
  {points: houstonPoints, color: '#0000ff'},
  {points: louisianaDensePoints, color: '#ff0000'},
  {points: louisianaPoints, color: '#ff0000'},
  {points: restDensePoints, color: '#bfbf00'},
  {points: restPoints, color: '#bfbf00'}
];
seriesDraw.forEach(function(s){
  s.points.forEach(function(p){
    const dot = mk('circle', scatterGroup, {cx: xScatter(p[0]).toFixed(1), cy: yScatter(p[1]).toFixed(1), r: 7.6, fill: s.color});
    
    
  });
});
function crossPath(x, y, h){
  return 'M' + (x - h) + ' ' + (y - h) + 'L' + (x + h) + ' ' + (y + h) + 'M' + (x - h) + ' ' + (y + h) + 'L' + (x + h) + ' ' + (y - h);
}
let zeroPath = '';
zeroRainMm.forEach(function(mm){
  zeroPath += crossPath(xScatter(mm / 1000), yScatter(0), 6.2);
});
const zeroMarks = mk('path', scatterGroup, {d: zeroPath, fill: 'none', stroke: '#bf00bf', 'stroke-width': 2.8});



// right x ticks
scatterXTicks.forEach(function(v, i){
  const x = xScatter(v);
  const tick = mk('line', rightAxes, {x1: x, x2: x, y1: 1102, y2: 1110, stroke: '#000', 'stroke-width': 2});
  
  
  const label = mk('text', rightAxes, {x: x, y: 1144, 'font-size': 35.5, 'text-anchor': 'middle'});
  label.textContent = scatterXLabels[i];
  
  
});
// right y ticks
scatterYTicks.forEach(function(v){
  const y = yScatter(v);
  const tick = mk('line', rightAxes, {x1: 1909, x2: 1917, y1: y, y2: y, stroke: '#000', 'stroke-width': 2});
  
  
  const label = mk('text', rightAxes, {x: 1902, y: y + 14, 'font-size': 35.5, 'text-anchor': 'end'});
  label.textContent = String(v);
  
  
});

// legend
const legendFrame = mk('rect', legendGroup, {x: 1935.5, y: 82, width: 418.5, height: 254, rx: 6, ry: 6, fill: '#fff', 'fill-opacity': 0.8, stroke: '#d6d6d6', 'stroke-width': 2.4});


const legendColors = ['#bf00bf', '#bfbf00', '#0000ff', '#ff0000', 'green'];
legendLabels.forEach(function(name, i){
  const y = 109 + i * 48.8;
  let mark;
  if (i === 0) {
    mark = mk('path', legendGroup, {d: crossPath(1980, y, 6.2), fill: 'none', stroke: legendColors[i], 'stroke-width': 2.2});
  } else {
    mark = mk('circle', legendGroup, {cx: 1980, cy: y, r: 7.6, fill: legendColors[i]});
  }
  
  
  const label = mk('text', legendGroup, {x: 2041, y: y + 12, 'font-size': 33.4});
  label.textContent = name;
  
  
});
</script>
</body>
</html>
